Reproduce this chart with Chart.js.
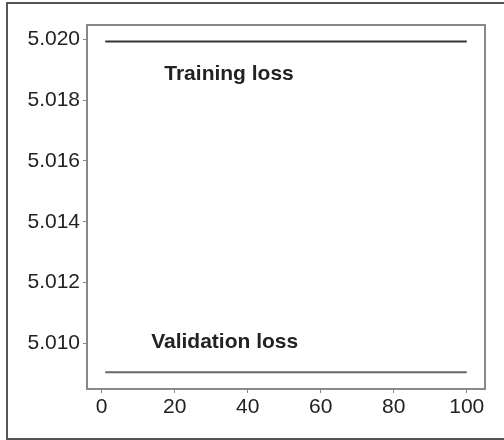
<!DOCTYPE html>
<html>
<head>
<meta charset="utf-8">
<script src="https://cdn.jsdelivr.net/npm/chart.js@4/dist/chart.umd.min.js"></script>
<style>
html, body { margin: 0; padding: 0; background: #fff; overflow: hidden; }
#frame { position: absolute; left: 6px; top: 2px; width: 520px; height: 434px; border: 2px solid #555; }
#wrap { position: absolute; left: 0; top: 0; width: 504px; height: 440px; }
</style>
</head>
<body>
<div id="frame"></div>
<div id="wrap"><canvas id="chart" width="504" height="440"></canvas></div>
<script>
// DATA
var epochs = [1, 100];
var trainLoss = [5.01993, 5.01993];
var valLoss = [5.00905, 5.00905];
var xTicks = [0, 20, 40, 60, 80, 100];
var yTicks = [5.010, 5.012, 5.014, 5.016, 5.018, 5.020];
var labels = [
	{ text: 'Training loss', x: 34.9, y: 5.01866 },
	{ text: 'Validation loss', x: 33.7, y: 5.00985 }
];

function toPoints(xs, ys) {
	return xs.map(function(x, i) { return { x: x, y: ys[i] }; });
}

var FONT = "'Liberation Sans', Arial, sans-serif";

// BOX AROUND THE PLOT + IN-PLOT LABELS
var boxPlugin = {
	id: 'box',
	afterDatasetsDraw: function(chart) {
		var ctx = chart.ctx, a = chart.chartArea;
		ctx.save();
		ctx.strokeStyle = '#888';
		ctx.lineWidth = 2;
		ctx.strokeRect(a.left, a.top, a.right - a.left, a.bottom - a.top);
		ctx.fillStyle = '#222';
		ctx.font = 'bold 21px ' + FONT;
		ctx.textAlign = 'center';
		ctx.textBaseline = 'alphabetic';
		labels.forEach(function(l) {
			ctx.fillText(l.text, chart.scales.x.getPixelForValue(l.x), chart.scales.y.getPixelForValue(l.y));
		});
		ctx.restore();
	}
};

var ctx = document.getElementById('chart').getContext('2d');
var lossChart = new Chart(ctx, {
	type: 'line',
	data: {
		datasets: [{
			label: 'Training loss',
			data: toPoints(epochs, trainLoss),
			borderColor: '#333',
			borderWidth: 2,
			pointRadius: 0
		}, {
			label: 'Validation loss',
			data: toPoints(epochs, valLoss),
			borderColor: '#666',
			borderWidth: 2,
			pointRadius: 0
		}]
	},
	options: {
		responsive: false,
		animation: false,
		layout: { padding: { left: 0, top: 25, right: 19, bottom: 0 } },
		plugins: { legend: { display: false }, tooltip: { enabled: false } },
		scales: {
			x: {
				type: 'linear',
				min: -4,
				max: 105,
				afterBuildTicks: function(s) { s.ticks = xTicks.map(function(v) { return { value: v }; }); },
				afterFit: function(s) { s.height = 51; },
				grid: { drawOnChartArea: false, drawTicks: true, tickLength: 4, color: '#888', lineWidth: 1 },
				border: { display: false },
				ticks: { color: '#222', font: { family: FONT, size: 21 }, padding: 2, maxRotation: 0 }
			},
			y: {
				type: 'linear',
				min: 5.0085,
				max: 5.02047,
				afterBuildTicks: function(s) { s.ticks = yTicks.map(function(v) { return { value: v }; }); },
				afterFit: function(s) { s.width = 87; },
				grid: { drawOnChartArea: false, drawTicks: true, tickLength: 4, color: '#888', lineWidth: 1 },
				border: { display: false },
				ticks: {
					color: '#222',
					font: { family: FONT, size: 21 },
					padding: 3,
					callback: function(v) { return v.toFixed(3); }
				}
			}
		}
	},
	plugins: [boxPlugin]
});
</script>
</body>
</html>
